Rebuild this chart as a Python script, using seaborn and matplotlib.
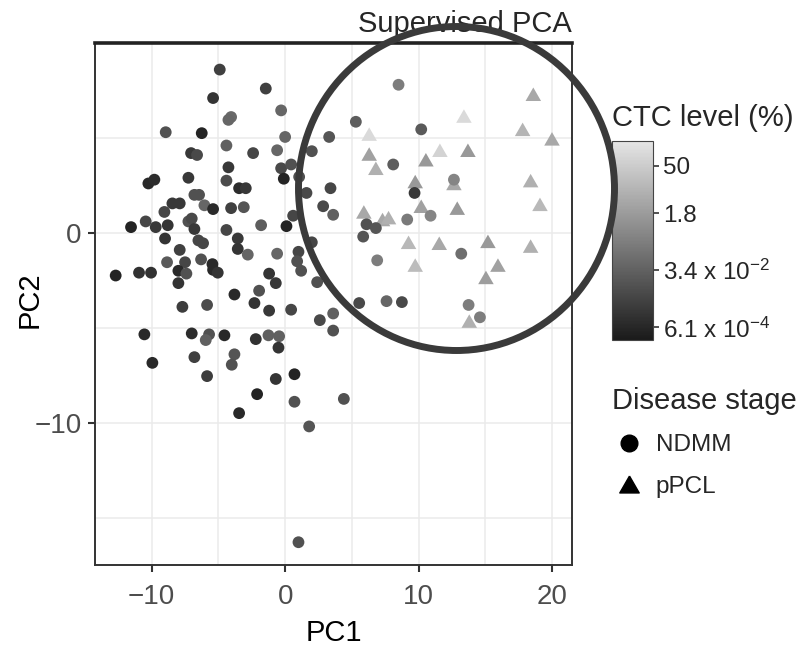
import numpy as np
import pandas as pd
import seaborn as sns
import matplotlib.pyplot as plt
from matplotlib.colors import LinearSegmentedColormap, Normalize
from matplotlib.cm import ScalarMappable
from matplotlib.lines import Line2D
from matplotlib.patches import Ellipse
from matplotlib.path import Path

# NDMM samples: PC1, PC2 and CTC level (log10 of %)
ndmm_pc1 = [-4.9, -5.4, -4.05, -4.25, -8.95, -6.25, -4.4, -2.4, -7.05, -6.6,
            -4.25, -7.25, -10.25, -9.8, -4.4, -3.45, -2.95, -6.8, -6.45, -8.45,
            -7.9, -6.05, -5.4, -4.05, -3.1, -9.05, -10.45, -9.7, -8.8, -7.25,
            -7.0, -11.55, -6.8, -4.4, -9.0, -6.5, -6.15, -3.55, -3.55, -2.8,
            -7.9, -8.85, -7.5, -6.3, -5.45, -5.4, -5.05, -8.0, -7.4, -12.7,
            -10.95, -10.05, -8.0, -3.8, -7.7, -5.85, -10.55, -7.0, -5.7, -5.95,
            -4.55, -3.8, -4.0, -9.95, -6.8, -5.85, -3.45, -1.45, 8.5, -0.3,
            5.3, 3.3, 0.0, -0.6, 2.0, 8.1, -0.3, 0.45, -0.1, 1.05,
            3.4, 1.6, 2.85, 3.6, 0.6, -1.8, 0.1, 6.1, 6.8, 9.15,
            10.9, 5.85, 2.0, -0.6, 1.0, 0.9, 1.2, 6.9, -1.2, -0.7,
            2.4, -1.95, -2.3, -1.2, 0.45, 5.55, 7.6, 8.75, 2.6, 3.6,
            3.6, -2.2, -1.25, -0.45, -0.5, -0.7, 0.7, -2.1, 0.7, 4.4,
            1.8, 1.0, 10.2, 12.65, 9.7, 13.2, 13.75, 14.6]
ndmm_pc2 = [8.6, 7.1, 6.1, 5.95, 5.3, 5.25, 4.6, 4.2, 4.2, 4.1,
            3.45, 2.9, 2.6, 2.8, 2.75, 2.35, 2.35, 2.0, 2.0, 1.55,
            1.55, 1.45, 1.25, 1.3, 1.35, 1.1, 0.6, 0.3, 0.4, 0.6,
            0.75, 0.3, 0.2, 0.15, -0.3, -0.4, -0.55, -0.3, -0.85, -1.15,
            -0.9, -1.55, -1.55, -1.4, -1.65, -1.95, -2.1, -2.0, -2.15, -2.25,
            -2.1, -2.1, -2.65, -3.25, -3.9, -3.8, -5.35, -5.3, -5.35, -5.65,
            -5.4, -6.4, -6.95, -6.85, -6.55, -7.55, -9.5, 7.6, 7.8, 6.45,
            5.85, 5.05, 5.05, 4.35, 4.3, 3.6, 3.4, 3.6, 2.85, 2.95,
            2.35, 2.1, 1.4, 0.95, 0.9, 0.4, 0.35, 0.45, 0.25, 0.7,
            0.9, -0.2, -0.5, -1.1, -1.0, -1.5, -2.0, -1.45, -2.15, -2.65,
            -2.6, -3.05, -3.7, -4.1, -4.05, -3.7, -3.6, -3.65, -4.6, -4.25,
            -5.15, -5.6, -5.4, -5.45, -6.05, -7.7, -7.45, -8.5, -8.9, -8.75,
            -10.2, -16.3, 5.45, 2.8, 2.1, -1.1, -3.8, -4.45]
ndmm_ctc = [-2.45, -2.8, -1.25, -1.35, -1.95, -3.3, -1.5, -2.3, -2.7, -2.2,
            -2.7, -2.7, -3.15, -3.05, -2.1, -3.05, -2.7, -1.95, -1.95, -2.7,
            -2.7, -1.35, -3.15, -2.45, -1.85, -2.3, -2.3, -2.7, -2.8, -1.95,
            -2.2, -3.3, -2.7, -2.3, -2.8, -2.3, -2.3, -2.7, -2.8, -1.35,
            -2.45, -1.7, -2.3, -1.95, -3.15, -3.15, -2.8, -3.15, -1.95, -3.3,
            -2.9, -2.9, -2.8, -3.15, -2.55, -2.1, -3.15, -3.05, -1.95, -1.5,
            -3.15, -1.85, -1.95, -3.15, -2.45, -2.55, -3.15, -2.45, -0.65, -1.35,
            -1.6, -1.85, -1.35, -1.35, -1.95, -1.6, -2.2, -1.95, -3.3, -1.95,
            -2.3, -2.2, -2.2, -1.5, -2.3, -1.6, -3.3, -1.95, -1.85, -0.75,
            -0.4, -1.85, -2.3, -1.35, -2.3, -1.95, -1.95, -0.65, -2.8, -2.7,
            -1.95, -1.95, -2.8, -2.7, -2.3, -2.2, -1.35, -2.2, -2.2, -1.5,
            -1.95, -2.9, -1.5, -1.5, -2.8, -2.8, -3.3, -3.3, -1.95, -1.95,
            -1.85, -1.95, -1.7, -0.4, -2.7, -1.1, -0.65, -0.65]

# pPCL samples
ppcl_pc1 = [6.3, 6.3, 6.8, 5.9, 7.3, 7.75, 18.6, 13.4, 17.8, 20.0,
            11.6, 13.7, 10.55, 18.4, 12.65, 9.75, 19.1, 10.2, 12.9, 9.25,
            11.55, 15.2, 18.4, 9.75, 15.95, 15.05, 13.8]
ppcl_pc2 = [5.2, 4.15, 3.4, 1.1, 0.7, 0.8, 7.3, 6.15, 5.45, 4.95,
            4.35, 4.35, 3.85, 2.75, 2.6, 2.7, 1.5, 1.4, 1.3, -0.5,
            -0.55, -0.45, -0.7, -1.7, -1.7, -2.35, -4.65]
ppcl_ctc = [2.1, 0.4, 0.85, 0.65, 0.65, 0.85, 0.65, 2.1, 1.0, 0.65,
            1.9, 0.2, 0.2, 0.85, 0.65, 0.2, 1.15, 0.4, 0.2, 1.1,
            0.65, 0.2, 0.85, 1.2, 0.4, 0.3, 0.85]

stage_labels = ["NDMM", "pPCL"]
cbar_values = [50, 1.8, 3.4e-2, 6.1e-4]
cbar_labels = ["50", "1.8", "3.4 x 10$^{-2}$", "6.1 x 10$^{-4}$"]

ndmm = pd.DataFrame({"PC1": ndmm_pc1, "PC2": ndmm_pc2, "ctc": ndmm_ctc})
ppcl = pd.DataFrame({"PC1": ppcl_pc1, "PC2": ppcl_pc2, "ctc": ppcl_ctc})

sns.set_theme(style="white")
plt.rcParams["font.family"] = ["Liberation Sans", "DejaVu Sans"]
plt.rcParams["mathtext.fontset"] = "custom"
plt.rcParams["mathtext.rm"] = "Liberation Sans"
plt.rcParams["mathtext.it"] = "Liberation Sans:italic"
plt.rcParams["mathtext.bf"] = "Liberation Sans:bold"

gray = LinearSegmentedColormap.from_list("ctc", ["#1a1a1a", "#e5e5e5"])
norm = Normalize(vmin=-3.6, vmax=2.45)
tri = Path([(0, 1), (-1.15, -1), (1.15, -1), (0, 1)])

fig = plt.figure(figsize=(8, 6.51), dpi=100)
ax = fig.add_axes([95 / 800, 86 / 651, 477 / 800, 522 / 651])

sns.scatterplot(data=ppcl, x="PC1", y="PC2", hue="ctc", palette=gray, hue_norm=norm,
                marker=tri, s=125, linewidth=0, legend=False, ax=ax)
sns.scatterplot(data=ndmm, x="PC1", y="PC2", hue="ctc", palette=gray, hue_norm=norm,
                marker="o", s=72, linewidth=0, legend=False, ax=ax)

ax.set_xlim(-14.25, 21.5)
ax.set_ylim(-17.5, 10.0)
ax.set_xticks([-10, 0, 10, 20])
ax.set_yticks([-10, 0])
ax.set_xticks([-5, 5, 15], minor=True)
ax.set_yticks([-15, -5, 5], minor=True)
ax.grid(True, which="both", color="#ebebeb", lw=1.1)
ax.set_axisbelow(True)
ax.tick_params(which="major", bottom=True, left=True, length=5, width=1.5,
               color="#333333", labelsize=20, labelcolor="#4d4d4d")
ax.tick_params(axis="x", which="major", pad=9)
ax.tick_params(axis="y", which="major", pad=4.5)
ax.tick_params(which="minor", length=0)
for side in ["left", "bottom", "right"]:
    ax.spines[side].set_color("#333333")
    ax.spines[side].set_linewidth(1.4)
ax.spines["top"].set_color("#222222")
ax.spines["top"].set_linewidth(2.6)

ax.set_xlabel("PC1", fontsize=21, color="black")
ax.xaxis.set_label_coords(0.5, -0.103)
ax.set_ylabel("PC2", fontsize=21, color="black")
ax.yaxis.set_label_coords(-0.107, 0.508)
ax.set_title("Supervised PCA", loc="right", fontsize=21, pad=8)

# colour bar
cax = fig.add_axes([612 / 800, 311 / 651, 41 / 800, 199 / 651])
cb = fig.colorbar(ScalarMappable(norm=norm, cmap=gray), cax=cax)
cb.set_ticks(np.log10(cbar_values))
cb.set_ticklabels(cbar_labels)
cb.ax.tick_params(labelsize=17.5, length=4, width=1.2, color="#333333", pad=3)
cb.outline.set_linewidth(0.8)
cb.outline.set_edgecolor("#444444")
fig.text(612 / 800, 1 - 118 / 651, "CTC level (%)", fontsize=21, va="center", ha="left")

# shape legend
handles = [Line2D([], [], marker="o", ls="", color="black", markersize=12),
           Line2D([], [], marker=tri, ls="", color="black", markersize=14)]
fig.legend(handles, stage_labels, title="Disease stage", loc="upper left",
           bbox_to_anchor=(612 / 800, 1 - 387 / 651), frameon=False, fontsize=17.5,
           title_fontsize=21, alignment="left", handletextpad=0.4, labelspacing=0.8,
           borderpad=0, borderaxespad=0, handlelength=1.4)

# highlight circle
fig.add_artist(Ellipse((456.5 / 800, 1 - 188.5 / 651), 316 / 800, 324 / 651,
                       transform=fig.transFigure, fill=False, edgecolor="#3a3a3a",
                       lw=5, zorder=10))

fig.savefig("out.png", dpi=100)
